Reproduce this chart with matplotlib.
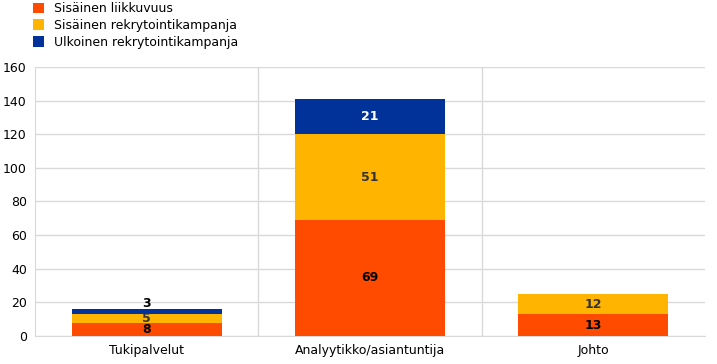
import matplotlib.pyplot as plt

categories = ["Tukipalvelut", "Analyytikko/asiantuntija", "Johto"]
series_names = ["Sisäinen liikkuvuus", "Sisäinen rekrytointikampanja", "Ulkoinen rekrytointikampanja"]
internal_mobility = [8, 69, 13]
internal_campaign = [5, 51, 12]
external_campaign = [3, 21, 0]

colors = ["#FF4B00", "#FFB400", "#003299"]
label_colors = ["black", "#333333", "white"]

fig = plt.figure(figsize=(7.17, 3.64), dpi=100)
ax = fig.add_axes([0.049, 0.077, 0.934, 0.739])

x = range(len(categories))
bottom = [0, 0, 0]
handles = []
for values, name, color, lcolor in zip(
    [internal_mobility, internal_campaign, external_campaign], series_names, colors, label_colors
):
    bars = ax.bar(x, values, width=0.67, bottom=bottom, color=color, label=name, zorder=3)
    handles.append(bars)
    for i, v in enumerate(values):
        if v == 0:
            continue
        y = bottom[i] + v / 2
        c = lcolor
        if i == 0 and color == colors[2]:
            # thin segment: label sits above the bar
            y = bottom[i] + v + 3.5
            c = "black"
        ax.text(i, y, str(v), ha="center", va="center",
                fontsize=9, fontweight="bold", color=c, zorder=4)
    bottom = [b + v for b, v in zip(bottom, values)]

ax.set_xlim(-0.5, 2.5)
ax.set_ylim(0, 160)
ax.set_yticks(range(0, 161, 20))
ax.set_xticks(list(x))
ax.set_xticklabels(categories)
ax.tick_params(length=0, labelsize=9, pad=6)
ax.grid(axis="y", color="#d9d9d9", linewidth=1, zorder=0)
for xv in [0.5, 1.5]:
    ax.axvline(xv, color="#d9d9d9", linewidth=1, zorder=0)
for side in ["top", "right"]:
    ax.spines[side].set_visible(False)
for side in ["left", "bottom"]:
    ax.spines[side].set_color("#d9d9d9")

fig.legend(handles=handles, labels=series_names, loc="upper left",
           bbox_to_anchor=(0.03, 1.025), frameon=False, fontsize=9,
           handlelength=0.9, handleheight=0.9, handletextpad=0.8, labelspacing=0.3)

plt.savefig("out.png")
plt.close()
